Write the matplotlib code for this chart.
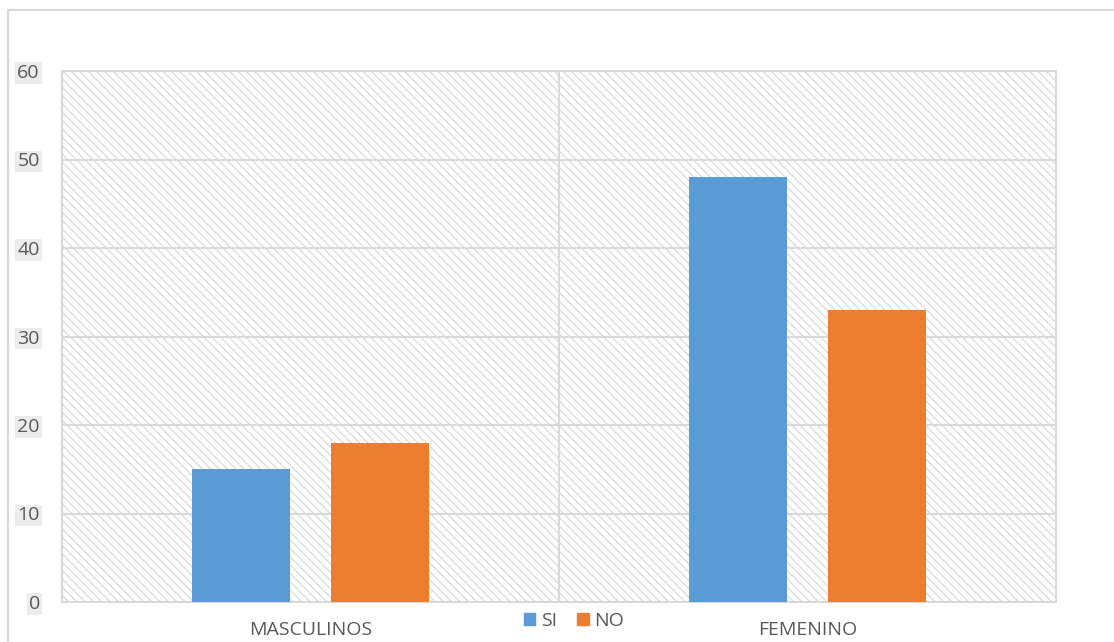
import matplotlib.pyplot as plt
from matplotlib.patches import Patch, Rectangle
from matplotlib.lines import Line2D
import numpy as np

categories = ["MASCULINOS", "FEMENINO"]
series_names = ["SI", "NO"]
si_values = [15, 48]
no_values = [18, 33]
y_ticks = [0, 10, 20, 30, 40, 50, 60]

colors = {"SI": "#5b9bd5", "NO": "#ed7d31"}
grid_color = "#d9d9d9"
text_color = "#595959"

plt.rcParams["font.family"] = ["Open Sans", "DejaVu Sans"]
plt.rcParams["hatch.linewidth"] = 1.0

fig = plt.figure(figsize=(11.14, 6.42), dpi=100)
ax = fig.add_axes([62 / 1114, 40 / 642, (1056 - 62) / 1114, (602 - 71) / 642])

# hatched plot-area background
ax.add_patch(Rectangle((0, 0), 1, 1, transform=ax.transAxes, facecolor="white",
                       edgecolor="#dedede", hatch="\\\\\\\\", linewidth=0, zorder=0))

x = np.arange(len(categories))
width = 0.197
offset = 0.14
ax.bar(x - offset, si_values, width, color=colors["SI"], zorder=3, label=series_names[0])
ax.bar(x + offset, no_values, width, color=colors["NO"], zorder=3, label=series_names[1])

ax.set_xlim(-0.5, 1.5)
ax.set_ylim(0, 60)
ax.set_yticks(y_ticks)
ax.set_yticklabels([str(t) for t in y_ticks])
for lbl in ax.get_yticklabels():
    lbl.set_bbox(dict(facecolor="#ececec", edgecolor="none", pad=1.0))

ax.set_xticks(x)
ax.set_xticklabels(categories)

# gridlines
for t in y_ticks[1:-1]:
    ax.axhline(t, color=grid_color, linewidth=1.5, zorder=1)
ax.axvline(0.5, color=grid_color, linewidth=1.5, zorder=1)

for s in ax.spines.values():
    s.set_color(grid_color)
    s.set_linewidth(1.5)

ax.tick_params(axis="both", length=0, labelsize=14, colors=text_color)
ax.tick_params(axis="y", pad=16)
ax.tick_params(axis="x", pad=14)

handles = [Patch(color=colors[n], label=n) for n in series_names]
fig.legend(handles=handles, loc="center", bbox_to_anchor=(574 / 1114, 21 / 642), ncol=2,
           frameon=False, fontsize=14, handlelength=0.6, handleheight=0.6,
           handletextpad=0.3, columnspacing=1.0, labelcolor=text_color)

# outer chart frame
fig.add_artist(Line2D([8 / 1114, 8 / 1114], [0, 1 - 10 / 642], transform=fig.transFigure,
                      color=grid_color, linewidth=1.6))
fig.add_artist(Line2D([8 / 1114, 1], [1 - 10 / 642, 1 - 10 / 642], transform=fig.transFigure,
                      color=grid_color, linewidth=1.6))

fig.savefig("out.png", dpi=100)
